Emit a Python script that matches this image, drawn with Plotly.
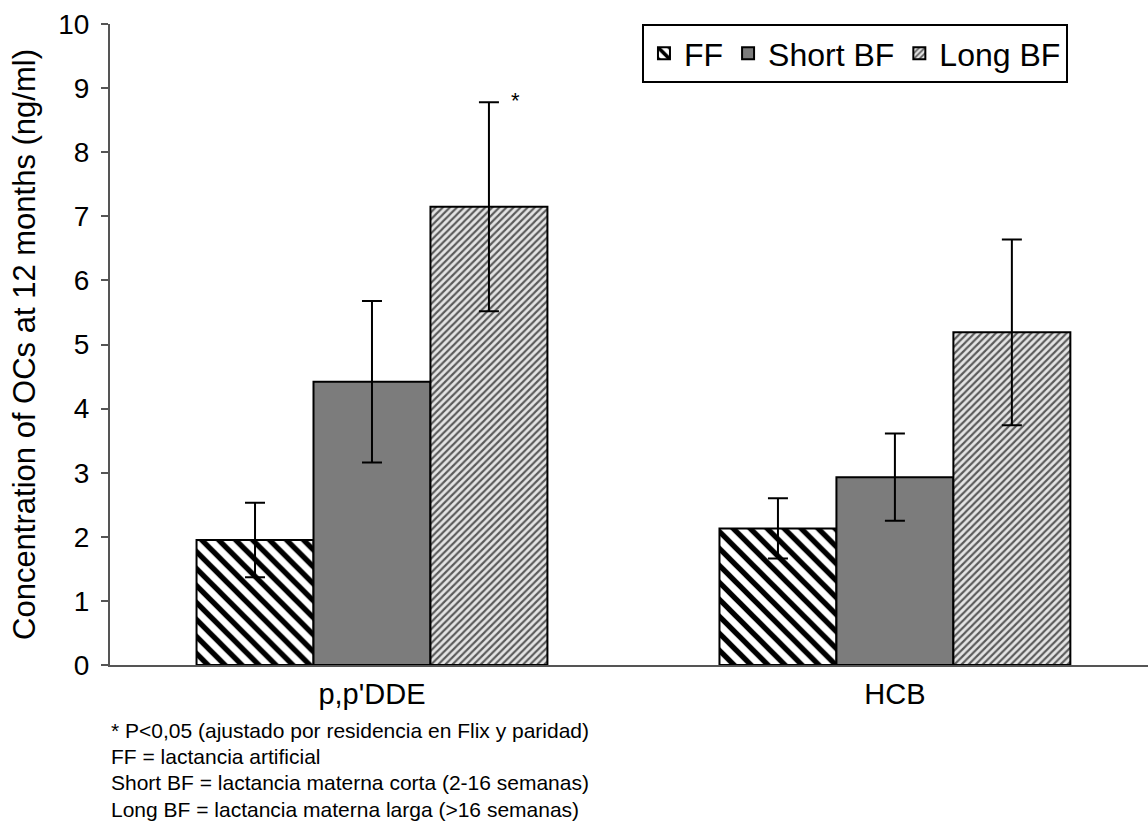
import plotly.graph_objects as go

# Organochlorine concentrations at 12 months by feeding group (ng/ml)
compounds = ["p,p'DDE", "HCB"]
groups = ["FF", "Short BF", "Long BF"]
ff_mean = [1.95, 2.13]
ff_err = [0.58, 0.47]
short_mean = [4.42, 2.93]
short_err = [1.26, 0.68]
long_mean = [7.15, 5.19]
long_err = [1.63, 1.45]

y_ticks = list(range(0, 11))

footnotes = [
    "* P<0,05 (ajustado por residencia en Flix y paridad)",
    "FF = lactancia artificial",
    "Short BF = lactancia materna corta (2-16 semanas)",
    "Long BF = lactancia materna larga (>16 semanas)",
]

FONT = "Liberation Sans, Arial, sans-serif"

styles = {
    "FF": dict(pattern=dict(shape="\\", size=12, solidity=0.45, fgopacity=1,
                            fgcolor="black", bgcolor="white", fillmode="replace"),
               color="white"),
    "Short BF": dict(color="#7c7c7c"),
    "Long BF": dict(pattern=dict(shape="/", size=5, solidity=0.42, fgopacity=1,
                                 fgcolor="#5a5a5a", bgcolor="#e4e4e4", fillmode="replace"),
                    color="#e4e4e4"),
}

series = {
    "FF": (ff_mean, ff_err),
    "Short BF": (short_mean, short_err),
    "Long BF": (long_mean, long_err),
}

fig = go.Figure()
for name in groups:
    mean, err = series[name]
    st = styles[name]
    marker = dict(color=st["color"], line=dict(color="black", width=2))
    if "pattern" in st:
        marker["pattern"] = st["pattern"]
    fig.add_trace(go.Bar(
        name=name,
        x=compounds,
        y=mean,
        marker=marker,
        error_y=dict(type="data", array=err, visible=True,
                     color="black", thickness=2, width=10),
    ))

# significance marker above the Long BF p,p'DDE error bar
n_groups = len(groups)
bargap = 0.329
bar_w = (1 - bargap) / n_groups
long_idx = groups.index("Long BF")
star_x = 0 + (long_idx - (n_groups - 1) / 2) * bar_w
fig.add_annotation(x=star_x, y=long_mean[0] + long_err[0], text="*",
                   showarrow=False, xshift=27, yshift=2,
                   font=dict(family=FONT, size=22, color="black"))

plot_top, plot_bottom = 24, 665
plot_h = plot_bottom - plot_top
line_centers = [730, 756.5, 783, 809.5]
for txt, yc in zip(footnotes, line_centers):
    fig.add_annotation(xref="paper", yref="paper", x=0, y=-(yc - plot_bottom) / plot_h,
                       xanchor="left", yanchor="middle", text=txt, showarrow=False,
                       xshift=-1, font=dict(family=FONT, size=21, color="black"))

fig.update_layout(
    width=1148, height=826,
    margin=dict(l=110, r=0, t=plot_top, b=826 - plot_bottom, pad=0),
    paper_bgcolor="white", plot_bgcolor="white",
    barmode="group", bargap=bargap, bargroupgap=0,
    font=dict(family=FONT, color="black"),
    showlegend=True,
    legend=dict(orientation="h", x=0.5125, xanchor="left", y=1.0, yanchor="top",
                bordercolor="black", borderwidth=2, bgcolor="white",
                font=dict(family=FONT, size=32, color="black"),
                traceorder="normal", itemclick=False),
    xaxis=dict(range=[-0.501, 1.484], showline=True, linecolor="#555555", linewidth=2,
               ticks="", showgrid=False, zeroline=False, ticklabelstandoff=2,
               tickfont=dict(family=FONT, size=29, color="black")),
    yaxis=dict(range=[0, 10], tickvals=y_ticks, showline=True, linecolor="#555555",
               linewidth=2, ticks="outside", ticklen=7, tickwidth=2, tickcolor="#555555",
               showgrid=False, zeroline=False, ticklabelstandoff=6,
               tickfont=dict(family=FONT, size=28, color="black"),
               title=dict(text="Concentration of OCs at 12 months (ng/ml)", standoff=13,
                          font=dict(family=FONT, size=31, color="black"))),
)

fig.write_html("out.html")
